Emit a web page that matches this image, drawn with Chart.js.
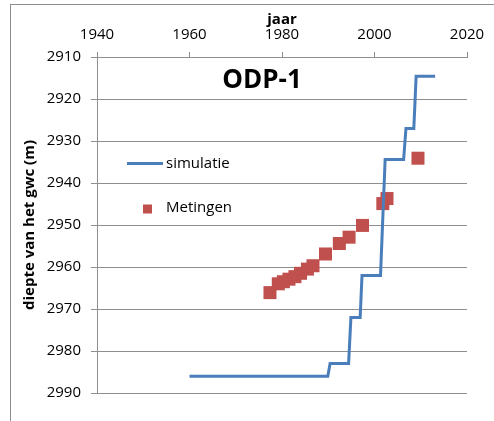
<!DOCTYPE html>
<html>
<head>
<meta charset="utf-8">
<script src="https://cdn.jsdelivr.net/npm/chart.js@4.4.1/dist/chart.umd.min.js"></script>
<style>
  body { margin: 0; background: #fff; }
  #frame { position: absolute; left: 10px; top: 4px; width: 600px; height: 600px; border: 1px solid #8c8c8c; }
  #c { position: absolute; left: 0; top: 0; }
</style>
</head>
<body>
<div id="frame"></div>
<canvas id="c" width="494" height="421"></canvas>
<script>
// simulatie (step line)
const simYears = [1960, 1989.9, 1990.4, 1994.4, 1994.9, 1996.9, 1997.3, 2001.3, 2002.3, 2006.3, 2006.8, 2008.5, 2009.0, 2013.1]
const simDepth = [2986, 2986, 2983, 2983, 2972, 2972, 2962, 2962, 2934.4, 2934.4, 2927, 2927, 2914.6, 2914.6]

// Metingen (measurements)
const metYears = [1977.4, 1979.2, 1980.3, 1981.5, 1982.8, 1984.0, 1985.5, 1986.7, 1989.4, 1992.4, 1994.5, 1997.4, 2001.8, 2002.7, 2009.4]
const metDepth = [2966.1, 2964.0, 2963.5, 2962.9, 2962.3, 2961.5, 2960.5, 2959.7, 2956.9, 2954.4, 2952.9, 2950.1, 2944.9, 2943.7, 2934.1]

const xTicks = [1940, 1960, 1980, 2000, 2020]
const yTicks = [2910, 2920, 2930, 2940, 2950, 2960, 2970, 2980, 2990]

const blue = '#4A7EBB'
const red = '#C0504D'
const gridGray = '#8e8e8e'
const font = "'Open Sans', 'Liberation Sans', sans-serif"

// title + legend drawn inside the plot
const overlay = {
    id: 'overlay',
    afterDatasetsDraw(chart) {
        const { ctx, chartArea: a } = chart
        ctx.save()
        ctx.fillStyle = '#000'
        ctx.font = 'bold 26px ' + font
        ctx.textAlign = 'center'
        ctx.textBaseline = 'middle'
        ctx.fillText('ODP-1', a.left + 165, a.top + 24)

        // legend
        ctx.strokeStyle = blue
        ctx.lineWidth = 3
        ctx.beginPath()
        ctx.moveTo(a.left + 30, a.top + 106.5)
        ctx.lineTo(a.left + 66, a.top + 106.5)
        ctx.stroke()
        ctx.font = '15px ' + font
        ctx.textAlign = 'left'
        ctx.textBaseline = 'alphabetic'
        ctx.fillText('simulatie', a.left + 69, a.top + 111)
        ctx.fillStyle = red
        ctx.fillRect(a.left + 46, a.top + 147.5, 9, 9)
        ctx.fillStyle = '#000'
        ctx.fillText('Metingen', a.left + 69, a.top + 155)
        ctx.restore()
    }
}

const chart = new Chart(document.getElementById('c'), {
    type: 'scatter',
    data: {
        datasets: [
            {
                label: 'Metingen',
                data: metYears.map((x, i) => ({ x: x, y: metDepth[i] })),
                pointStyle: 'rect',
                pointRadius: 9.2,
                backgroundColor: red,
                borderColor: red,
                borderWidth: 0,
                order: 2
            },
            {
                label: 'simulatie',
                data: simYears.map((x, i) => ({ x: x, y: simDepth[i] })),
                showLine: true,
                borderColor: blue,
                borderWidth: 3,
                pointRadius: 0,
                tension: 0,
                order: 1
            }
        ]
    },
    options: {
        responsive: false,
        animation: false,
        layout: { padding: { left: 0, right: 27, top: 0, bottom: 28 } },
        plugins: {
            legend: { display: false },
            tooltip: { enabled: false }
        },
        scales: {
            x: {
                type: 'linear',
                position: 'top',
                min: 1940,
                max: 2020,
                afterBuildTicks: s => { s.ticks = xTicks.map(v => ({ value: v })) },
                afterFit: s => { s.height = 57 },
                ticks: { callback: v => v, color: '#000', font: { family: font, size: 15 }, padding: 8 },
                grid: { drawOnChartArea: false, tickLength: 5, color: gridGray },
                border: { color: gridGray },
                title: { display: true, text: 'jaar', color: '#000', font: { family: font, size: 15, weight: 'bold' }, padding: { top: 11, bottom: 0 } }
            },
            y: {
                reverse: true,
                min: 2910,
                max: 2990,
                afterBuildTicks: s => { s.ticks = yTicks.map(v => ({ value: v })) },
                afterFit: s => { s.width = 97 },
                ticks: { callback: v => v, color: '#000', font: { family: font, size: 15 }, padding: 10 },
                grid: { tickLength: 6, color: gridGray },
                border: { color: gridGray },
                title: { display: true, text: 'diepte van het gwc (m)', color: '#000', font: { family: font, size: 15, weight: 'bold' }, padding: { top: 21, bottom: 0 } }
            }
        }
    },
    plugins: [overlay]
})
</script>
</body>
</html>
